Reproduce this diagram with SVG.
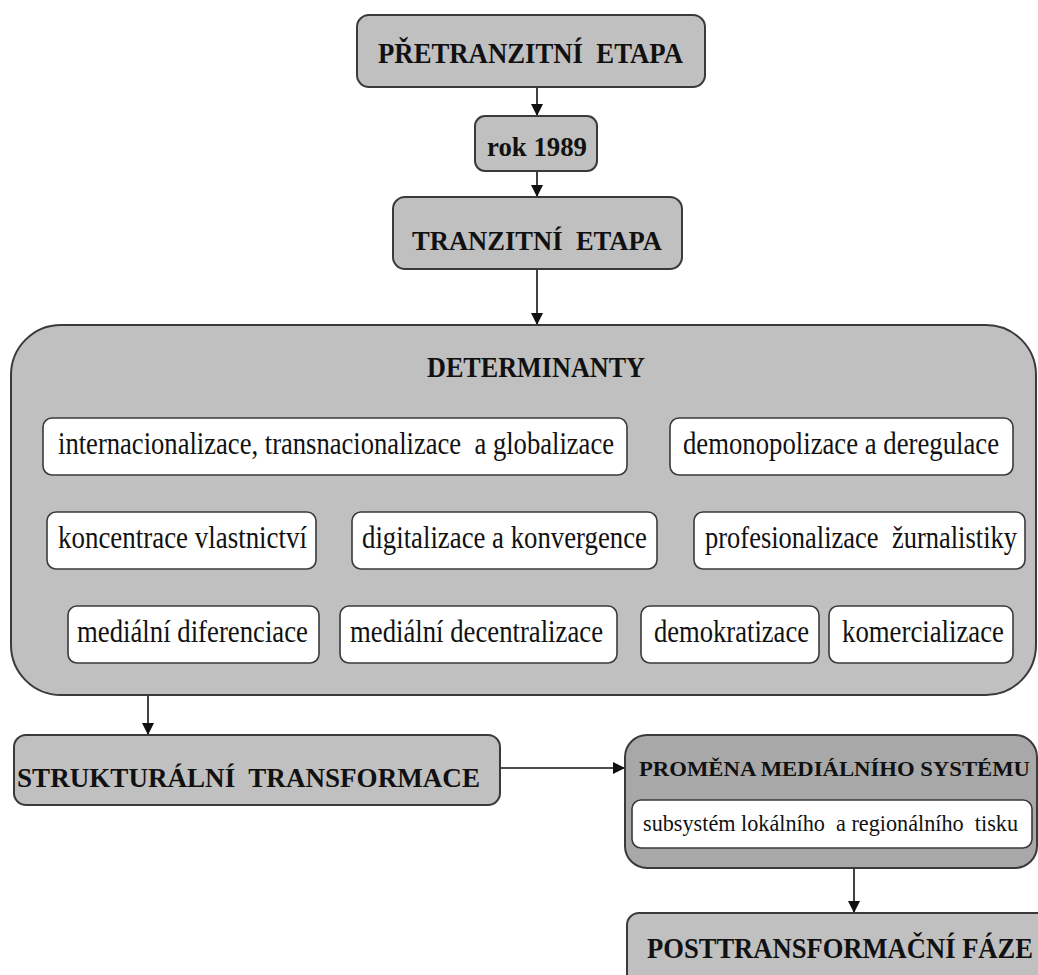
<svg xmlns="http://www.w3.org/2000/svg" width="1038" height="975" viewBox="0 0 1038 975">
  <defs>
    <marker id="arrow" viewBox="0 0 12 12" refX="12" refY="6" markerWidth="12" markerHeight="12" markerUnits="userSpaceOnUse" orient="auto">
      <path d="M0,0 L12,6 L0,12 Z" fill="#111"/>
    </marker>
    <style>
      .stage { fill: #c0c0c0; stroke: #3a3a3a; stroke-width: 2; }
      .dark { fill: #a8a8a8; stroke: #3a3a3a; stroke-width: 2; }
      .item { fill: #ffffff; stroke: #3a3a3a; stroke-width: 1.6; }
      .head { font-family: 'Liberation Serif', 'DejaVu Serif', serif; font-weight: bold; fill: #111; }
      .label { font-family: 'Liberation Serif', 'DejaVu Serif', serif; fill: #111; }
      .edge { stroke: #111; stroke-width: 1.6; fill: none; marker-end: url(#arrow); }
    </style>
  </defs>
  <rect width="1038" height="975" fill="#ffffff"/>

  <g id="connectors">
    <line class="edge" x1="537" y1="87" x2="537" y2="116"/>
    <line class="edge" x1="537" y1="171" x2="537" y2="197"/>
    <line class="edge" x1="537" y1="269" x2="537" y2="325"/>
    <line class="edge" x1="148" y1="695" x2="148" y2="735"/>
    <line class="edge" x1="500" y1="768" x2="625" y2="768"/>
    <line class="edge" x1="854" y1="868" x2="854" y2="913"/>
  </g>

  <!-- text is drawn slightly taller than wide: translate to the baseline, then stretch vertically -->
  <g id="pretranzitni">
    <rect class="stage" x="357" y="15" width="348" height="72" rx="12"/>
    <text class="head" transform="translate(378 63) scale(1 1.15)" font-size="26" textLength="305" lengthAdjust="spacingAndGlyphs" xml:space="preserve">PŘETRANZITNÍ  ETAPA</text>
  </g>

  <g id="rok1989">
    <rect class="stage" x="475" y="116" width="122" height="55" rx="10"/>
    <text class="head" transform="translate(487 156) scale(1 1.05)" font-size="25" textLength="100" lengthAdjust="spacingAndGlyphs">rok 1989</text>
  </g>

  <g id="tranzitni">
    <rect class="stage" x="393" y="197" width="289" height="72" rx="12"/>
    <text class="head" transform="translate(412 250) scale(1 1.1)" font-size="25.5" textLength="250" lengthAdjust="spacingAndGlyphs" xml:space="preserve">TRANZITNÍ  ETAPA</text>
  </g>

  <g id="determinanty">
    <rect class="stage" x="11" y="325" width="1025" height="370" rx="50"/>
    <text class="head" transform="translate(427 377) scale(1 1.15)" font-size="25" textLength="218" lengthAdjust="spacingAndGlyphs">DETERMINANTY</text>

    <g id="internacionalizace">
      <rect class="item" x="43" y="418" width="584" height="57" rx="9"/>
      <text class="label" transform="translate(58 454) scale(1 1.2)" font-size="26" textLength="556" lengthAdjust="spacingAndGlyphs" xml:space="preserve">internacionalizace, transnacionalizace  a globalizace</text>
    </g>
    <g id="demonopolizace">
      <rect class="item" x="670" y="418" width="343" height="57" rx="9"/>
      <text class="label" transform="translate(683 454) scale(1 1.2)" font-size="26" textLength="316" lengthAdjust="spacingAndGlyphs">demonopolizace a deregulace</text>
    </g>
    <g id="koncentrace">
      <rect class="item" x="47" y="512" width="269" height="57" rx="9"/>
      <text class="label" transform="translate(58 548) scale(1 1.2)" font-size="26" textLength="249" lengthAdjust="spacingAndGlyphs">koncentrace vlastnictví</text>
    </g>
    <g id="digitalizace">
      <rect class="item" x="352" y="512" width="305" height="57" rx="9"/>
      <text class="label" transform="translate(362 548) scale(1 1.2)" font-size="26" textLength="285" lengthAdjust="spacingAndGlyphs">digitalizace a konvergence</text>
    </g>
    <g id="profesionalizace">
      <rect class="item" x="694" y="512" width="331" height="57" rx="9"/>
      <text class="label" transform="translate(705 548) scale(1 1.2)" font-size="26" textLength="312" lengthAdjust="spacingAndGlyphs" xml:space="preserve">profesionalizace  žurnalistiky</text>
    </g>
    <g id="diferenciace">
      <rect class="item" x="68" y="606" width="251" height="57" rx="9"/>
      <text class="label" transform="translate(77 642) scale(1 1.2)" font-size="26" textLength="231" lengthAdjust="spacingAndGlyphs">mediální diferenciace</text>
    </g>
    <g id="decentralizace">
      <rect class="item" x="340" y="606" width="277" height="57" rx="9"/>
      <text class="label" transform="translate(350 642) scale(1 1.2)" font-size="26" textLength="253" lengthAdjust="spacingAndGlyphs">mediální decentralizace</text>
    </g>
    <g id="demokratizace">
      <rect class="item" x="641" y="606" width="178" height="57" rx="9"/>
      <text class="label" transform="translate(654 642) scale(1 1.2)" font-size="26" textLength="155" lengthAdjust="spacingAndGlyphs">demokratizace</text>
    </g>
    <g id="komercializace">
      <rect class="item" x="829" y="606" width="184" height="57" rx="9"/>
      <text class="label" transform="translate(842 642) scale(1 1.2)" font-size="26" textLength="162" lengthAdjust="spacingAndGlyphs">komercializace</text>
    </g>
  </g>

  <g id="strukturalni">
    <rect class="stage" x="14" y="735" width="486" height="70" rx="12"/>
    <text class="head" transform="translate(17 787) scale(1 1.1)" font-size="25.5" textLength="463" lengthAdjust="spacingAndGlyphs" xml:space="preserve">STRUKTURÁLNÍ  TRANSFORMACE</text>
  </g>

  <g id="promena">
    <rect class="dark" x="625" y="735" width="412" height="133" rx="22"/>
    <text class="head" transform="translate(639 776) scale(1 1.25)" font-size="16" textLength="391" lengthAdjust="spacingAndGlyphs">PROMĚNA MEDIÁLNÍHO SYSTÉMU</text>
    <g id="subsystem">
      <rect class="item" x="632" y="800" width="400" height="48" rx="9"/>
      <text class="label" transform="translate(643 831) scale(1 1.25)" font-size="19" textLength="375" lengthAdjust="spacingAndGlyphs" xml:space="preserve">subsystém lokálního  a regionálního  tisku</text>
    </g>
  </g>

  <g id="posttransformacni">
    <rect class="stage" x="627" y="913" width="440" height="90" rx="12"/>
    <text class="head" transform="translate(647 958) scale(1 1.2)" font-size="24" textLength="386" lengthAdjust="spacingAndGlyphs">POSTTRANSFORMAČNÍ FÁZE</text>
  </g>
</svg>
